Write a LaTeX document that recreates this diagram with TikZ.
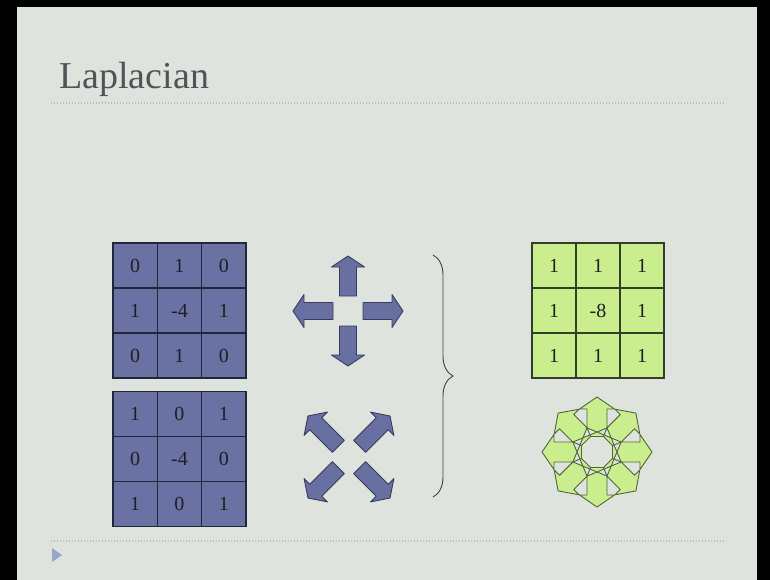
\documentclass[tikz,border=0pt]{standalone}
\usepackage{fontspec}
\setmainfont{Liberation Serif}
\usetikzlibrary{decorations.pathreplacing}
\definecolor{bg}{RGB}{222,228,221}
\definecolor{titlegray}{RGB}{80,84,88}
\definecolor{bluefill}{RGB}{106,114,164}
\definecolor{bluedark}{RGB}{35,38,58}
\definecolor{greenfill}{RGB}{202,238,142}
\definecolor{greendark}{RGB}{50,62,40}
\definecolor{arrowblue}{RGB}{104,112,162}
\definecolor{arrowbluedark}{RGB}{55,60,95}
\definecolor{arrowgreendark}{RGB}{80,100,60}
\definecolor{dotgray}{RGB}{182,188,182}
\definecolor{tri}{RGB}{150,165,200}
\definecolor{numtext}{RGB}{30,30,35}
\newcommand\myarrow[6]{% style, cx, cy, angle, tip radius, head base radius
  \draw[#1, shift={(#2,#3)}, rotate=#4]
    (15,-8.5) -- (#6,-8.5) -- (#6,-16.5) -- (#5,0) -- (#6,16.5) -- (#6,8.5) -- (15,8.5) -- cycle;}
\begin{document}
\begin{tikzpicture}[x=1pt,y=-1pt,
  bcell/.style={draw=bluedark, fill=bluefill, line width=1.2pt, inner sep=0pt,
    minimum width=44.33pt, minimum height=45pt, text=numtext, font=\fontsize{20}{20}\selectfont},
  gcell/.style={draw=greendark, fill=greenfill, line width=1.2pt, inner sep=0pt,
    minimum width=44pt, minimum height=45pt, text=numtext, font=\fontsize{20}{20}\selectfont},
  barrow/.style={fill=arrowblue, draw=arrowbluedark, line width=0.9pt, line join=round},
  garrow/.style={fill=greenfill, draw=arrowgreendark, line width=0.9pt, line join=round},
  gline/.style={draw=arrowgreendark, line width=0.9pt},
  dotline/.style={draw=dotgray, line width=1.3pt, dash pattern=on 1.3pt off 1.7pt},
  bracestyle/.style={draw=black!75, line width=0.9pt, decorate, decoration={brace, amplitude=20pt}}
]
\useasboundingbox (0,0) rectangle (770,580);
\fill[black] (0,0) rectangle (770,580);
\fill[bg] (17,7) rectangle (757,580);

% title
\node[anchor=base west, inner sep=0pt, text=titlegray, font=\fontsize{38}{38}\selectfont] (title) at (59,89) {Laplacian};
\coordinate (d1a) at (51,103);
\coordinate (d1b) at (726,103);
\draw[dotline] (d1a) -- (d1b);
\coordinate (d2a) at (51,541);
\coordinate (d2b) at (726,541);
\draw[dotline] (d2a) -- (d2b);
\fill[tri] (52,548) -- (62,555) -- (52,562) -- cycle;

% blue matrices
\foreach \v [count=\i from 0] in {0,1,0,1,-4,1,0,1,0} {
  \pgfmathtruncatemacro\r{floor(\i/3)}
  \pgfmathtruncatemacro\c{mod(\i,3)}
  \node[bcell] (A-\i) at ({113+44.33*(\c+0.5)},{243+45*(\r+0.5)}) {\v};
}
\foreach \v [count=\i from 0] in {1,0,1,0,-4,0,1,0,1} {
  \pgfmathtruncatemacro\r{floor(\i/3)}
  \pgfmathtruncatemacro\c{mod(\i,3)}
  \node[bcell] (B-\i) at ({113+44.33*(\c+0.5)},{391+45.3*(\r+0.5)}) {\v};
}
% green matrix
\foreach \v [count=\i from 0] in {1,1,1,1,-8,1,1,1,1} {
  \pgfmathtruncatemacro\r{floor(\i/3)}
  \pgfmathtruncatemacro\c{mod(\i,3)}
  \node[gcell] (C-\i) at ({532+44*(\c+0.5)},{243+45*(\r+0.5)}) {\v};
}

% blue cross arrows
\foreach \a in {0,90,180,270} { \myarrow{barrow}{348}{311}{\a}{55}{44} }
% blue diagonal arrows
\foreach \a in {45,135,225,315} { \myarrow{barrow}{349}{457}{\a}{58}{47} }

% brace
\coordinate (bt) at (433,255);
\coordinate (bb) at (433,497);
\draw[bracestyle] (bt) -- (bb);

% green star of arrows (one outline)
\coordinate (sc) at (597,452);
\draw[garrow, shift={(sc)}] ([rotate=0]24.1,-10)
  \foreach \a in {0,45,...,315} {
    -- ([rotate=\a]24.1,-10) -- ([rotate=\a]43,-10) -- ([rotate=\a]43,-17.5)
    -- ([rotate=\a]55,0) -- ([rotate=\a]43,17.5) -- ([rotate=\a]43,10) -- ([rotate=\a]24.1,10)
  } -- cycle;
\foreach \a in {22.5,67.5,...,337.5} {
  \draw[gline, shift={(sc)}] (\a:16.8) -- (\a:26.1);
}
\draw[fill=bg, draw=arrowgreendark, line width=0.9pt, shift={(sc)}]
  (22.5:16.8) -- (67.5:16.8) -- (112.5:16.8) -- (157.5:16.8) -- (202.5:16.8) -- (247.5:16.8) -- (292.5:16.8) -- (337.5:16.8) -- cycle;
\end{tikzpicture}
\end{document}
